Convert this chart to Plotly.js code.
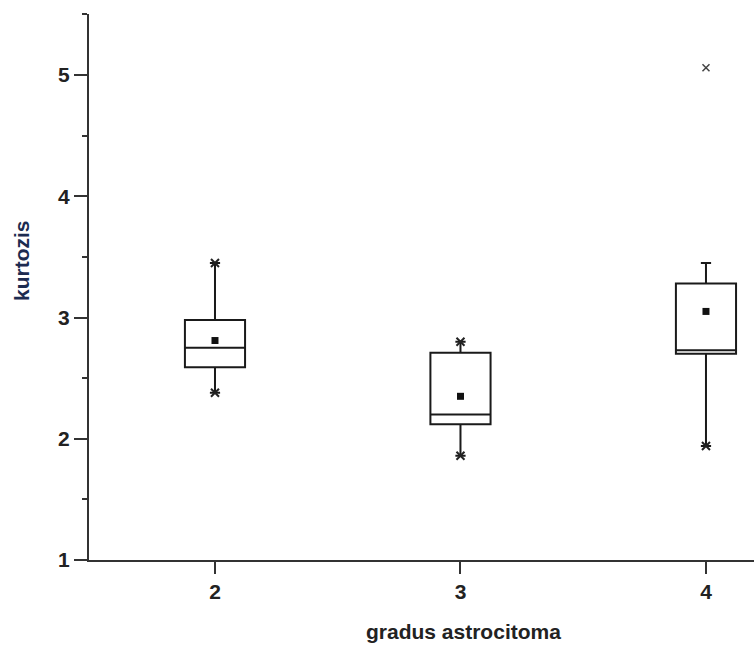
<!DOCTYPE html>
<html>
<head>
<meta charset="utf-8">
<script src="https://cdn.plot.ly/plotly-3.0.1.min.js"></script>
<style>
  html, body { margin: 0; padding: 0; background: #fff; }
  #chart { width: 754px; height: 645px; }
</style>
</head>
<body>
<div id="chart"></div>
<script>
// Kurtosis by astrocytoma grade: box summaries
const grades   = [2, 3, 4];
const q1       = [2.59, 2.12, 2.70];
const medians  = [2.75, 2.20, 2.73];
const q3       = [2.98, 2.71, 3.28];
const lowerW   = [2.38, 1.86, 1.94];
const upperW   = [3.45, 2.80, 3.45];
const means    = [2.81, 2.35, 3.05];

// whisker-end markers (1st / 99th percentile)
const pctX = [2, 2, 3, 3, 4];
const pctY = [3.45, 2.38, 2.80, 1.86, 1.94];

// extreme value
const outX = [4];
const outY = [5.06];

const tickVals = [2, 3, 4];
const tickText = ['2', '3', '4'];

const FAMILY = 'Liberation Sans, Arial, sans-serif';
const txtFont = { family: FAMILY, size: 21, color: '#222', weight: 'bold' };

const traces = [
  {
    type: 'box',
    x: grades,
    q1: q1,
    median: medians,
    q3: q3,
    lowerfence: lowerW,
    upperfence: upperW,
    width: 0.245,
    whiskerwidth: 0.17,
    fillcolor: '#ffffff',
    line: { color: '#1a1a1a', width: 2 },
    boxpoints: false,
    hoverinfo: 'skip',
    showlegend: false
  },
  {
    type: 'scatter',
    mode: 'markers',
    x: grades,
    y: means,
    marker: { symbol: 'square', size: 7, color: '#111' },
    showlegend: false
  },
  {
    type: 'scatter',
    mode: 'markers',
    x: pctX,
    y: pctY,
    marker: { symbol: 'x-thin', size: 8, line: { width: 2, color: '#222' } },
    showlegend: false
  },
  {
    type: 'scatter',
    mode: 'markers',
    x: outX,
    y: outY,
    marker: { symbol: 'x-thin', size: 7, line: { width: 1.5, color: '#444' } },
    showlegend: false
  }
];

const layout = {
  width: 754,
  height: 645,
  margin: { l: 89, r: 0, t: 14, b: 85 },
  paper_bgcolor: '#ffffff',
  plot_bgcolor: '#ffffff',
  showlegend: false,
  xaxis: {
    range: [1.4868, 4.1956],
    tickvals: tickVals,
    ticktext: tickText,
    ticks: 'outside',
    ticklen: 12,
    tickwidth: 2,
    tickcolor: '#333',
    showline: true,
    linecolor: '#333',
    linewidth: 2,
    showgrid: false,
    zeroline: false,
    tickfont: txtFont
  },
  yaxis: {
    range: [1, 5.503],
    tickvals: [1, 2, 3, 4, 5],
    ticks: 'outside',
    ticklen: 13,
    tickwidth: 2,
    tickcolor: '#333',
    minor: { dtick: 0.5, tick0: 1, ticks: 'outside', ticklen: 5, tickwidth: 2, tickcolor: '#333' },
    showline: true,
    linecolor: '#333',
    linewidth: 2,
    showgrid: false,
    zeroline: false,
    tickfont: txtFont
  },
  annotations: [
    {
      text: 'gradus astrocitoma',
      xref: 'paper', yref: 'paper',
      x: (463 - 89) / 665, y: (560 - 631) / 546,
      xanchor: 'center', yanchor: 'middle',
      showarrow: false,
      font: { family: FAMILY, size: 21, color: '#222', weight: 'bold' }
    },
    {
      text: 'kurtozis',
      xref: 'paper', yref: 'paper',
      x: (21 - 89) / 665, y: (560 - 261) / 546,
      xanchor: 'center', yanchor: 'middle',
      textangle: -90,
      showarrow: false,
      font: { family: FAMILY, size: 21, color: '#1c2b50', weight: 'bold' }
    }
  ]
};

Plotly.newPlot('chart', traces, layout, { displayModeBar: false, staticPlot: true });
</script>
</body>
</html>
